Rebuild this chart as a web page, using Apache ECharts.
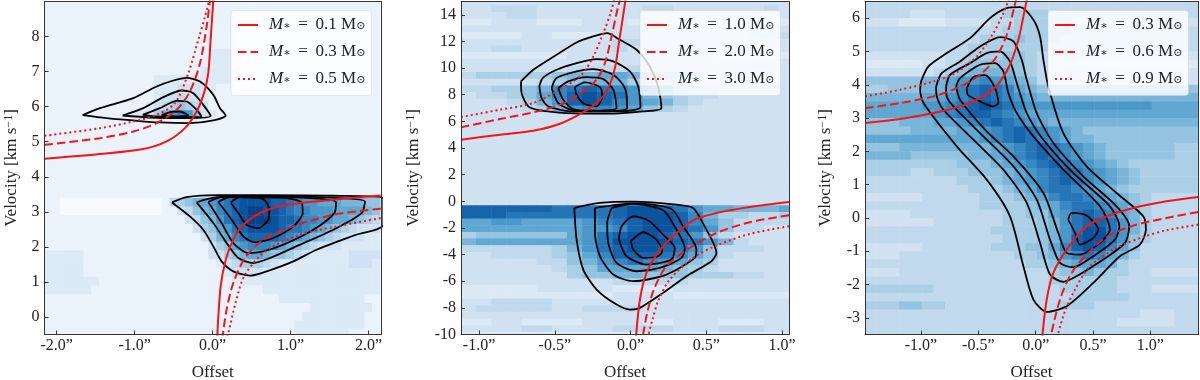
<!DOCTYPE html>
<html>
<head>
<meta charset="utf-8">
<style>html,body{margin:0;padding:0;background:#fff}#chart{width:1200px;height:380px}</style>
<script src="https://cdn.jsdelivr.net/npm/echarts@6/dist/echarts.min.js"></script>
</head>
<body>
<div id="chart"></div>
<script>
/* Position-velocity diagrams: three panels, intensity map + contours + rotation curves */

// intensity maps, one hex digit per cell, rows run from high to low velocity
const heat1 = [
  '1111111111 1111111111 1111111111 1111111111 111',
  '1111111111 1111111111 1111111111 1111111111 111',
  '1111111111 1111111111 1111111111 1111111111 111',
  '1111111111 1111111111 1111111111 1111111111 111',
  '1111111111 1111111111 1111111111 1111111111 111',
  '1111111111 1111111111 1111111111 1111111111 111',
  '1111111111 1111111111 1222111111 1111111111 111',
  '1111111111 1111111111 1222111111 1111111111 111',
  '1111111111 1111111111 2222111111 1111111111 111',
  '1111111111 1111222222 2222111111 1111111111 111',
  '1111111111 1111222333 2211111111 1111111111 111',
  '1111111111 1111233433 2111111111 1111111111 111',
  '1111111111 1112345654 3111111111 1111111111 111',
  '1111111111 1223579a96 3211111111 1111111111 111',
  '1111111111 1111111111 1111111111 1111111111 111',
  '1111111111 1111111111 1111111111 1111111111 111',
  '1111111111 1111111111 1111111111 1111111111 111',
  '1111111111 1111111111 1111111111 1111111111 111',
  '1111111111 1111111111 1111111111 1111111111 111',
  '1111111111 1111111111 1111111111 1111111111 111',
  '1111111111 1111111111 1111111111 1111111111 111',
  '1111111111 1111111111 1111111111 1111111111 111',
  '1111111111 1111111111 1111111111 1111111111 111',
  '1100000000 0000014567 89abcddddc cba9988877 766',
  '1100000000 0000011346 78abcdeedd cbaa999888 876',
  '1111111111 1111111134 679bcdeeed ccbaa99887 654',
  '1111111111 1111111113 5689bcdddd cbba987654 333',
  '1111111111 1111111111 3578abcccc ba98765433 322',
  '1111111111 1111111111 135689aaa9 8765433322 222',
  '2222211111 1111111111 1335678876 6543222223 333',
  '2222211111 1111111111 1123455543 2222222223 332',
  '2222211111 1111111111 1112333322 2222222222 222',
  '2222222111 1111111111 1111222222 2222222222 222',
  '2222221111 1111111111 1111111122 2222222222 222',
  '1111111111 1111111111 1111111111 2222222222 211',
  '1111111111 1111111111 1111111111 1111222222 221',
  '1111111111 1111111111 1111111111 1112222222 211',
  '1111111111 1111111111 1111111111 1122222222 211',
  '1111111111 1111111111 1111111111 1122222221 111'
];
const heat2 = [
  '3333333333 3333333333 33',
  '3344433333 3344333333 43',
  '3334433333 3333333333 33',
  '2233322233 3233333333 22',
  '3333333333 3333333333 43',
  '2222332223 3333333334 44',
  '3333333333 4433333333 33',
  '3344333333 4333333333 33',
  '2222222333 3333333222 22',
  '3333333333 3333333333 33',
  '3333333444 4433333333 33',
  '4555556778 8765553333 33',
  '3333345677 7544333333 33',
  '445567abcb a987544444 43',
  '344568acdc b976544333 33',
  '3334579cdc a987543333 33',
  '33334579aa 9865433333 33',
  '3333333333 3333333333 33',
  '3333333333 3333333333 33',
  '3333333333 3333333333 33',
  '3333333333 3333333333 33',
  '3333333333 3333333333 33',
  '3333333333 3333333333 33',
  '3333333333 3333333333 33',
  '3333333333 3333333333 33',
  '3333333333 3333333333 33',
  '3333333333 3333333333 33',
  '3333333333 3333333333 33',
  '3333333333 3333333333 33',
  '3333333333 3333333333 33',
  '3333333333 3333333333 33',
  'ccccccbbbb cddcb98877 78',
  'cccbbbbbbb cdddca7554 45',
  '889988889a bcddca8644 44',
  '8888888899 acddcb9644 33',
  '566666689b cddcb96433 33',
  '788888889b ddddcb9743 33',
  '44444457 9b cddcb96444 33',
  '3344445 68a cccba86433 33',
  '33333446 79 aba9865333 33',
  '3333334568 8887654333 33',
  '3333333566 7766655544 33',
  '3333333333 4444433333 33',
  '2222233333 2222333333 33',
  '2222222222 3333222222 22',
  '3344443333 3333333333 33',
  '3444443344 4433333333 33',
  '3333333333 3333333333 33',
  '2233222233 3322333222 33',
  '3333443333 4444333444 33',
  '2222222222 2222222222 22'
];
const heat3 = [
  '4444444444 4444444444 444444444',
  '4444333444 4455554444 444444444',
  '3332222333 3445554433 333333333',
  '4444444444 4455555544 444444444',
  '4444444444 5556555444 444444444',
  '4444444445 5555554444 444444444',
  '3333333445 5566543333 333333333',
  '2222233456 6666543222 222222222',
  '3333334567 7776543333 333333333',
  '6666677899 a987643333 333333333',
  '5566677 8ab cba8766666 666666666',
  '77777889ab cba9877777 777777777',
  '8888899abc dcba999999 999998888',
  '8888889abc cba9888888 888888888',
  '66677788 9a bcba987777 777777777',
  '6666777788 9abcba9876 666666666',
  '8888888888 9abcba9877 666666666',
  '6667777777 789abcba98 766666655',
  '7777666667 789abcba98 766666655',
  '5555555566 6789abcba9 876555555',
  '5555445556 66789abcba 987655555',
  '4444444455 56789abcba 987655555',
  '4444444445 55678abba9 876555555',
  '3333344444 555678abba 987654444',
  '4444444444 5555678abb a98654444',
  '3333444444 44556689bc ba8754444',
  '3333334444 44555679bc cb9754444',
  '4444444444 45555679bd db9754444',
  '4444444444 4455567 9cd db9654444',
  '3333344444 455566 8acd ca8644444',
  '3334444444 4445567 9ab a87544444',
  '4444444444 4444556788 875444444',
  '3334444444 4444445667 655443333',
  '4444444444 4444445555 554444444',
  '5555554444 4444444555 554443333',
  '4444444444 4444444455 555444444',
  '5556655444 4444444555 444444444',
  '4444444444 4444444444 444433344',
  '4444444444 4444444444 443333344',
  '4444444444 4444444444 444444444'
];

// contours as [offset, velocity]
const contours1 = [
  [[-1.667,5.758],[-1.444,5.957],[-1.017,6.242],[-0.718,6.575],[-0.504,6.746],[-0.333,6.822],[-0.162,6.717],[0.009,6.337],[0.094,5.957],[0.167,5.748],[0.009,5.606],[-0.291,5.53],[-0.675,5.549],[-1.017,5.606],[-1.359,5.672]],
  [[-1.154,5.748],[-0.889,5.957],[-0.632,6.271],[-0.397,6.461],[-0.248,6.385],[-0.12,6.052],[-0.026,5.739],[-0.333,5.672],[-0.803,5.691]],
  [[-0.897,5.767],[-0.675,5.957],[-0.462,6.166],[-0.333,6.147],[-0.205,5.91],[-0.145,5.729],[-0.419,5.701],[-0.718,5.72]],
  [[-0.654,5.758],[-0.526,5.853],[-0.419,5.862],[-0.312,5.748],[-0.462,5.72]],
  [[-0.521,3.268],[-0.333,3.42],[0.051,3.477],[0.692,3.477],[1.547,3.458],[2.188,3.382],[2.188,2.632],[1.803,2.318],[1.333,1.919],[1.034,1.587],[0.692,1.302],[0.479,1.178],[0.265,1.302],[0.115,1.587],[0.009,2.014],[-0.12,2.489],[-0.291,2.869]],
  [[-0.205,3.268],[0.051,3.42],[0.906,3.439],[1.953,3.297],[1.91,2.964],[1.547,2.489],[1.12,2.062],[0.735,1.682],[0.521,1.539],[0.329,1.682],[0.179,2.109],[0.009,2.679]],
  [[-0.056,3.278],[0.115,3.42],[0.906,3.42],[1.581,3.278],[1.56,2.964],[1.291,2.489],[0.906,2.062],[0.65,1.872],[0.457,1.824],[0.265,2.109],[0.115,2.679]],
  [[0.073,3.278],[0.222,3.42],[0.906,3.401],[1.141,3.268],[1.154,2.964],[1.034,2.584],[0.778,2.252],[0.543,2.128],[0.393,2.299],[0.244,2.774]],
  [[0.231,3.268],[0.35,3.42],[0.65,3.363],[0.726,3.059],[0.714,2.774],[0.585,2.537],[0.436,2.632],[0.329,2.964]]
];
const contours2 = [
  [[-0.723,9],[-0.642,9.875],[-0.488,11],[-0.356,11.925],[-0.246,12.375],[-0.154,12.625],[-0.07,12.125],[0.04,11.375],[0.127,10.125],[0.182,8.625],[0.204,7],[0.084,6.75],[-0.158,6.575],[-0.422,6.625],[-0.598,6.825],[-0.675,7.125],[-0.719,8.125]],
  [[-0.602,8.625],[-0.58,9.25],[-0.488,9.875],[-0.356,10.375],[-0.224,10.675],[-0.114,10.5],[-0.004,9.75],[0.051,8.625],[0.066,7.075],[-0.092,6.75],[-0.378,6.75],[-0.543,7.125],[-0.587,7.75]],
  [[-0.521,8.5],[-0.488,9.25],[-0.356,9.75],[-0.246,9.925],[-0.114,9.5],[-0.037,8.5],[-0.022,7],[-0.202,6.75],[-0.378,6.825],[-0.477,7.375]],
  [[-0.477,8.5],[-0.411,9],[-0.29,9.325],[-0.18,9.175],[-0.114,8.375],[-0.092,7],[-0.268,6.8],[-0.378,6.925],[-0.444,7.625]],
  [[-0.367,8.575],[-0.301,8.925],[-0.202,8.575],[-0.187,7.875],[-0.224,7.125],[-0.308,7.325],[-0.356,8]],
  [[-0.371,-0.5],[-0.202,-0.125],[0.018,-0.025],[0.303,-0.25],[0.413,-0.5],[0.479,-1.675],[0.567,-3.875],[0.534,-4.5],[0.369,-5.625],[0.215,-6.875],[0.062,-8],[-0.004,-8.125],[-0.092,-7.75],[-0.224,-6.625],[-0.312,-5.125],[-0.356,-2.875]],
  [[-0.235,-0.5],[0.018,-0.15],[0.27,-0.575],[0.347,-1.875],[0.435,-3.625],[0.424,-4.25],[0.237,-5.5],[0.018,-6],[-0.114,-5.5],[-0.202,-4.125],[-0.235,-2.375]],
  [[-0.125,-0.5],[0.018,-0.2],[0.215,-0.675],[0.303,-2.125],[0.358,-3.5],[0.336,-4.25],[0.193,-5],[0.04,-5.25],[-0.092,-4.625],[-0.147,-3.125],[-0.154,-1.625]],
  [[-0.077,-2.875],[-0.059,-1.875],[0.018,-1.125],[0.116,-1.425],[0.215,-2.5],[0.292,-3.5],[0.27,-4.375],[0.105,-4.75],[-0.026,-4.125]],
  [[0.002,-3],[0.084,-2.325],[0.171,-2.875],[0.209,-3.75],[0.182,-4.125],[0.084,-4.25],[0.018,-3.625]]
];
const contours3 = [
  [[-0.999,4.1],[-0.935,4.55],[-0.775,4.95],[-0.572,5.4],[-0.398,6],[-0.253,6.3],[-0.136,6.33],[-0.02,5.95],[0.038,5.45],[0.067,4.75],[0.11,3.95],[0.241,2.55],[0.444,1.55],[0.705,0.75],[0.938,0.05],[0.961,-0.35],[0.909,-0.8],[0.734,-1.15],[0.502,-1.95],[0.27,-2.65],[0.096,-2.82],[-0.02,-2.45],[-0.107,-1.45],[-0.224,0.05],[-0.427,1.15],[-0.688,2.15],[-0.978,3.45],[-1.007,3.85]],
  [[-0.868,3.95],[-0.819,4.35],[-0.659,4.7],[-0.485,5.15],[-0.311,5.43],[-0.194,5.3],[-0.122,4.75],[-0.078,4.15],[0.009,3.15],[0.154,2.25],[0.415,1.25],[0.705,0.35],[0.816,-0.25],[0.778,-0.75],[0.589,-1.25],[0.357,-1.75],[0.241,-1.92],[0.125,-1.7],[0.038,-0.75],[-0.078,0.45],[-0.282,1.45],[-0.543,2.35],[-0.804,3.25],[-0.862,3.65]],
  [[-0.781,3.95],[-0.746,4.3],[-0.572,4.65],[-0.427,4.95],[-0.311,5],[-0.224,4.7],[-0.165,4.05],[-0.078,3.15],[0.067,2.35],[0.328,1.35],[0.647,0.35],[0.729,-0.25],[0.691,-0.65],[0.502,-1.15],[0.328,-1.48],[0.212,-1.35],[0.125,-0.65],[0.009,0.55],[-0.194,1.55],[-0.456,2.45],[-0.717,3.35],[-0.775,3.65]],
  [[-0.694,3.95],[-0.659,4.2],[-0.485,4.6],[-0.354,4.65],[-0.282,4.4],[-0.238,3.75],[-0.165,3.15],[-0.02,2.45],[0.241,1.45],[0.56,0.35],[0.647,-0.35],[0.56,-0.75],[0.386,-1.1],[0.27,-1.05],[0.197,-0.45],[0.067,0.75],[-0.194,1.85],[-0.427,2.6],[-0.659,3.55]],
  [[-0.601,3.9],[-0.543,4.23],[-0.441,4.29],[-0.354,3.9],[-0.325,3.45],[-0.374,3.35],[-0.514,3.55],[-0.592,3.7]],
  [[0.284,-0.05],[0.313,0.15],[0.444,0.07],[0.546,-0.35],[0.502,-0.6],[0.386,-0.8],[0.343,-0.45]]
];

// rotation curves, two branches per stellar mass
const curves1 = [
  [[[-2.154,4.513],[-1.444,4.646],[-0.889,4.789],[-0.59,5.007],[-0.355,5.387],[-0.205,5.862],[-0.111,6.385],[-0.056,6.955],[-0.026,7.905],[0.009,9.045]],
   [[2.154,3.468],[1.547,3.344],[0.949,3.202],[0.607,2.964],[0.372,2.584],[0.244,2.109],[0.158,1.539],[0.103,0.874],[0.073,0.019],[0.06,-0.551]]],
  [[[-2.154,4.912],[-1.444,5.102],[-1.017,5.292],[-0.718,5.53],[-0.462,5.91],[-0.291,6.432],[-0.162,7.24],[-0.077,8.285],[-0.034,9.045]],
   [[2.154,3.088],[1.547,2.917],[1.034,2.584],[0.65,2.204],[0.415,1.682],[0.265,0.969],[0.179,0.209],[0.128,-0.551]]],
  [[[-2.154,5.169],[-1.444,5.387],[-1.017,5.577],[-0.718,5.767],[-0.483,6.1],[-0.312,6.955],[-0.184,7.905],[-0.098,8.57],[-0.043,9.045]],
   [[2.154,2.822],[1.547,2.565],[1.12,2.347],[0.692,1.9],[0.415,1.207],[0.299,0.447],[0.197,-0.494],[0.18,-0.6]]]
];
const curves2 = [
  [[[-1.119,4.625],[-0.862,5],[-0.642,5.3],[-0.466,5.825],[-0.323,6.625],[-0.213,7.5],[-0.147,8.5],[-0.103,10],[-0.077,11.875],[-0.053,13.625],[-0.033,15.125]],
   [[1.046,-0.05],[0.787,-0.425],[0.567,-0.875],[0.413,-1.425],[0.281,-2.625],[0.171,-4],[0.105,-5.375],[0.062,-7.375],[0.037,-10.125]]],
  [[[-1.119,5.55],[-0.862,6.175],[-0.642,6.675],[-0.466,7.25],[-0.323,8.125],[-0.224,9.125],[-0.169,10.375],[-0.125,12.375],[-0.092,14.125],[-0.07,15.125]],
   [[1.046,-1.05],[0.787,-1.575],[0.567,-2.375],[0.391,-3.5],[0.237,-4.875],[0.154,-6.625],[0.11,-8.375],[0.081,-10.125]]],
  [[[-1.119,6.325],[-0.862,6.875],[-0.642,7.375],[-0.477,8.325],[-0.323,9.5],[-0.246,10.875],[-0.18,12.625],[-0.132,14.125],[-0.108,15.125]],
   [[1.046,-1.875],[0.787,-2.45],[0.567,-3.325],[0.413,-4.25],[0.259,-5.875],[0.182,-7.5],[0.145,-8.875],[0.116,-10.125]]]
];
const curves3 = [
  [[[-1.486,2.85],[-1.181,2.97],[-0.891,3.15],[-0.659,3.35],[-0.485,3.6],[-0.34,3.97],[-0.224,4.6],[-0.151,5.35],[-0.107,6.05],[-0.078,6.55]],
   [[1.417,0.63],[1.141,0.5],[0.851,0.3],[0.618,0.05],[0.444,-0.25],[0.27,-0.95],[0.154,-1.65],[0.096,-2.45],[0.058,-3.55]]],
  [[[-1.486,3.3],[-1.181,3.45],[-0.891,3.65],[-0.688,3.9],[-0.485,4.3],[-0.34,4.85],[-0.247,5.55],[-0.189,6.3],[-0.171,6.55]],
   [[1.417,0.18],[1.141,0],[0.851,-0.23],[0.618,-0.57],[0.444,-1.1],[0.313,-1.65],[0.212,-2.45],[0.131,-3.55]]],
  [[[-1.486,3.65],[-1.181,3.85],[-0.891,4.1],[-0.688,4.37],[-0.514,4.85],[-0.369,5.55],[-0.282,6.15],[-0.235,6.55]],
   [[1.417,-0.2],[1.141,-0.37],[0.938,-0.57],[0.705,-0.9],[0.473,-1.45],[0.343,-2.15],[0.255,-2.8],[0.189,-3.55]]]
];

const masses1 = ['0.1', '0.3', '0.5'];
const masses2 = ['1.0', '2.0', '3.0'];
const masses3 = ['0.3', '0.6', '0.9'];

const xTicks1 = [-2, -1, 0, 1, 2];
const xTicks2 = [-1, -0.5, 0, 0.5, 1];
const xTicks3 = [-1, -0.5, 0, 0.5, 1];
const yTicks1 = [0, 1, 2, 3, 4, 5, 6, 7, 8];
const yTicks2 = [-10, -8, -6, -4, -2, 0, 2, 4, 6, 8, 10, 12, 14];
const yTicks3 = [-3, -2, -1, 0, 1, 2, 3, 4, 5, 6];

const FONT = '"Liberation Serif", "DejaVu Serif", serif';
const TEXT = '#222';
const FRAME = '#333';
const RED = '#f51515';
const BLUES = ['#f7fbff', '#deebf7', '#c6dbef', '#9ecae1', '#6baed6', '#4292c6', '#2171b5', '#08519c', '#08306b'];
const lineTypes = ['solid', [8.5, 4], [2, 3]];

const panels = [
  { heat: heat1, contours: contours1, curves: curves1, masses: masses1, xTicks: xTicks1, yTicks: yTicks1,
    x0: -2.155, y0: 9.15, dx: 0.1, dy: 0.25, xMin: -2.155, xMax: 2.158, yMin: -0.5, yMax: 9,
    left: 44.5, width: 336.5, nameGap: 24, legendLeft: 231 },
  { heat: heat2, contours: contours2, curves: curves2, masses: masses2, xTicks: xTicks2, yTicks: yTicks2,
    x0: -1.12, y0: 15.2, dx: 0.1, dy: 0.5, xMin: -1.119, xMax: 1.046, yMin: -10, yMax: 15,
    left: 461, width: 328, nameGap: 38, legendLeft: 640 },
  { heat: heat3, contours: contours3, curves: curves3, masses: masses3, xTicks: xTicks3, yTicks: yTicks3,
    x0: -1.49, y0: 6.5, dx: 0.1, dy: 0.25, xMin: -1.488, xMax: 1.415, yMin: -3.5, yMax: 6.5,
    left: 865, width: 333, nameGap: 30, legendLeft: 1048 }
];

function heatCells(p) {
  const cells = [];
  p.heat.forEach((row, k) => {
    row.replace(/ /g, '').split('').forEach((c, i) => {
      cells.push([p.x0 + i * p.dx, p.y0 - k * p.dy, parseInt(c, 16)]);
    });
  });
  return cells;
}

const renderCell = p => (params, api) => {
  const a = api.coord([api.value(0), api.value(1)]);
  const b = api.coord([api.value(0) + p.dx, api.value(1) - p.dy]);
  return {
    type: 'rect',
    shape: { x: a[0], y: a[1], width: b[0] - a[0] + 0.5, height: b[1] - a[1] + 0.5 },
    style: { fill: api.visual('color') }
  };
};

const grid = [], xAxis = [], yAxis = [], series = [], legend = [];

panels.forEach(p => {
  grid.push({ left: p.left, top: 1.5, width: p.width, height: 333, outerBoundsMode: 'none' });
});
panels.forEach((p, n) => series.push({
  type: 'custom', xAxisIndex: n, yAxisIndex: n,
  data: heatCells(p), encode: { x: 0, y: 1 }, renderItem: renderCell(p),
  clip: true, silent: true, z: 1
}));

panels.forEach((p, n) => {
  xAxis.push({
    gridIndex: n, type: 'value', min: p.xMin, max: p.xMax, z: 6,
    name: 'Offset', nameLocation: 'middle', nameGap: 30,
    nameTextStyle: { fontFamily: FONT, fontSize: 17, color: TEXT },
    splitLine: { show: false },
    axisLine: { onZero: false, lineStyle: { color: FRAME, width: 1 } },
    axisTick: { inside: true, length: 4, customValues: p.xTicks, lineStyle: { color: FRAME } },
    axisLabel: {
      customValues: p.xTicks, margin: 3, fontFamily: FONT, fontSize: 16, color: TEXT,
      formatter: v => v.toFixed(1) + '”'
    }
  });
  yAxis.push({
    gridIndex: n, type: 'value', min: p.yMin, max: p.yMax, z: 6,
    name: '{a|Velocity [km s}{b|−1}{a|]}', nameLocation: 'middle', nameGap: p.nameGap,
    nameTextStyle: {
      rich: {
        a: { fontFamily: FONT, fontSize: 17, color: TEXT },
        b: { fontFamily: FONT, fontSize: 12, color: TEXT, verticalAlign: 'top', lineHeight: 18 }
      }
    },
    splitLine: { show: false },
    axisLine: { onZero: false, lineStyle: { color: FRAME, width: 1 } },
    axisTick: { inside: true, length: 4, customValues: p.yTicks, lineStyle: { color: FRAME } },
    axisLabel: { customValues: p.yTicks, margin: 5, fontFamily: FONT, fontSize: 16, color: TEXT }
  });

  p.contours.forEach(c => series.push({
    type: 'line', xAxisIndex: n, yAxisIndex: n, data: c.concat([c[0]]), smooth: 0.25,
    symbol: 'none', silent: true, z: 3,
    lineStyle: { color: '#000', width: 1.8 }
  }));

  const names = [];
  p.curves.forEach((branches, m) => {
    const name = 'p' + n + ':' + p.masses[m];
    names.push(name);
    series.push({
      type: 'line', name, xAxisIndex: n, yAxisIndex: n,
      data: branches[0].concat([[null, null]], branches[1]), smooth: 0.3,
      symbol: 'none', silent: true, z: 4,
      lineStyle: { color: RED, width: 2, type: lineTypes[m] }
    });
  });

  legend.push({
    data: names, orient: 'vertical', left: p.legendLeft, top: 10.5, z: 10,
    selectedMode: false, itemWidth: 20, itemHeight: 14, itemGap: 10,
    padding: [6, 6, 8, 6], backgroundColor: 'rgba(255,255,255,0.8)',
    borderColor: 'rgba(204,204,204,0.8)', borderWidth: 0.5, borderRadius: 3,
    itemStyle: { opacity: 0 },
    formatter: name => '{i|M}{s|∗}{t| \u2009=\u2009 ' + name.split(':')[1] + ' M}{s|⊙}',
    textStyle: {
      rich: {
        i: { fontFamily: FONT, fontSize: 17, lineHeight: 14, fontStyle: 'italic', color: TEXT, padding: [0, 0, 0, 6] },
        t: { fontFamily: FONT, fontSize: 17, lineHeight: 14, color: TEXT },
        s: { fontFamily: FONT, fontSize: 11, lineHeight: 14, color: TEXT, verticalAlign: 'bottom' }
      }
    }
  });
});

// top and right edges of each frame
panels.forEach((p, n) => {
  xAxis.push({ gridIndex: n, type: 'value', position: 'top', min: p.xMin, max: p.xMax, z: 6,
    splitLine: { show: false }, axisTick: { show: false }, axisLabel: { show: false },
    axisLine: { show: true, onZero: false, lineStyle: { color: FRAME, width: 1 } } });
  yAxis.push({ gridIndex: n, type: 'value', position: 'right', min: p.yMin, max: p.yMax, z: 6,
    splitLine: { show: false }, axisTick: { show: false }, axisLabel: { show: false },
    axisLine: { show: true, onZero: false, lineStyle: { color: FRAME, width: 1 } } });
});

const chart = echarts.init(document.getElementById('chart'), null, { renderer: 'canvas' });
chart.setOption({
  backgroundColor: '#fff',
  animation: false,
  tooltip: { show: false },
  visualMap: { show: false, type: 'continuous', min: 0, max: 15, dimension: 2, seriesIndex: [0, 1, 2], inRange: { color: BLUES } },
  grid, xAxis, yAxis, legend, series
});
</script>
</body>
</html>
